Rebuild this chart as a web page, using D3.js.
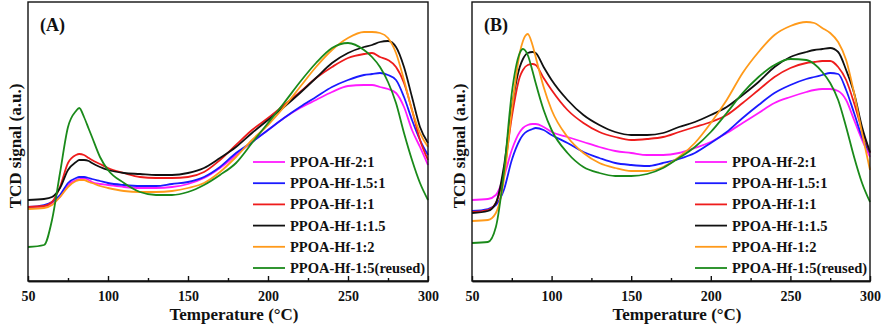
<!DOCTYPE html>
<html>
<head>
<meta charset="utf-8">
<script src="https://cdn.jsdelivr.net/npm/d3@7"></script>
<style>
  body { margin: 0; background: #fff; }
  svg text { font-family: "Liberation Serif", "Times New Roman", serif; font-weight: bold; fill: #111; }
  .axis path, .axis line { stroke: #111; stroke-width: 1.4; }
</style>
</head>
<body>
<div id="chart"></div>
<script>
// ===== data (TCD signal in a.u.) =====
let temps = [50, 60, 65, 70, 75, 80, 82, 85, 88, 90, 95, 100, 110, 120, 130, 140, 150, 160, 170, 180,
             190, 200, 210, 220, 230, 240, 250, 260, 265, 270, 275, 280, 285, 290, 295, 300];

let seriesNames = ["PPOA-Hf-2:1", "PPOA-Hf-1.5:1", "PPOA-Hf-1:1", "PPOA-Hf-1:1.5", "PPOA-Hf-1:2", "PPOA-Hf-1:5(reused)"];
let seriesColors = ["#ff1aff", "#1a1aff", "#ee1c1c", "#111111", "#ff9a1a", "#1a8a1a"];
let xTicks = [50, 100, 150, 200, 250, 300];
let xMinorTicks = [75, 125, 175, 225, 275];

// panel A
let a_21   = [74,74,78,84,96,101,102,103,101,99,97,96,94,93,93,94,97,103,113,126,139,151,163,173,181,189,195,196,196,194,192,188,174,151,134,116];
let a_151  = [74,76,79,86,98,103,104,104,103,102,100,98,96,95,95,97,99,104,114,128,139,151,163,174,184,194,201,206,207,208,206,201,184,161,141,126];
let a_11   = [74,75,79,94,118,126,127,126,123,121,117,113,108,104,103,103,104,109,121,136,151,163,176,189,203,214,223,227,228,224,221,214,198,171,141,121];
let a_115  = [81,82,84,93,111,119,121,121,120,118,114,111,108,107,106,106,108,113,123,134,148,161,174,188,203,218,228,234,236,239,240,234,214,184,154,138];
let a_12   = [72,73,76,84,94,100,101,101,99,98,95,93,90,89,89,90,93,98,109,124,141,156,174,194,214,231,243,249,249,248,243,228,201,171,148,134];
let a_15r  = [34,36,61,108,154,170,173,164,152,144,124,111,98,89,86,86,89,96,106,118,138,158,178,199,218,233,238,231,224,214,199,178,148,121,98,81];

// panel B
let b_21   = [81,82,86,104,131,149,153,156,157,157,154,149,144,139,134,130,128,126,126,128,133,139,148,158,168,178,184,189,191,192,192,190,181,161,141,124];
let b_151  = [70,72,76,91,121,141,146,150,152,153,151,146,138,129,123,118,116,115,118,122,128,138,149,163,176,188,196,202,204,206,208,207,191,168,144,128];
let b_11   = [69,71,78,108,164,204,211,216,217,216,203,191,171,158,149,144,141,142,144,149,154,159,166,178,191,204,213,218,219,220,220,214,201,178,151,128];
let b_115  = [68,70,78,114,174,214,222,228,229,228,214,201,181,166,156,149,146,146,148,154,159,166,174,186,199,214,224,229,231,232,233,229,211,188,154,129];
let b_12   = [60,61,68,101,171,228,240,247,236,224,194,171,144,128,118,113,110,110,114,124,138,158,181,208,229,246,255,259,258,253,248,239,221,188,148,111];
let b_15r  = [38,39,54,108,188,228,232,226,210,198,171,151,128,114,108,105,105,107,113,123,134,149,168,188,204,216,222,221,217,209,198,181,154,124,98,79];

let panels = [
  {label: "(A)", left: 28, right: 428, series: [a_21, a_151, a_11, a_115, a_12, a_15r], yTitleX: 15},
  {label: "(B)", left: 472, right: 870, series: [b_21, b_151, b_11, b_115, b_12, b_15r], yTitleX: 459}
];

let plotTop = 2, plotBottom = 281;

let svg = d3.select("#chart").append("svg")
    .attr("width", 884)
    .attr("height", 324);

panels.forEach(p => drawPanel(p));

function drawPanel(p) {

  let width = p.right - p.left,
      height = plotBottom - plotTop;

  let x = d3.scaleLinear().domain([50, 300]).range([0, width]),
      y = d3.scaleLinear().domain([0, 279]).range([height, 0]);

  let g = svg.append("g")
      .attr("transform", "translate(" + p.left + "," + plotTop + ")");

  // curves
  let line = d3.line()
      .x((d, i) => x(temps[i]))
      .y(d => y(d))
      .curve(d3.curveMonotoneX);

  g.selectAll(".curve")
    .data(p.series)
    .enter()
  .append("path")
    .attr("class", "curve")
    .attr("fill", "none")
    .attr("stroke", (d, i) => seriesColors[i])
    .attr("stroke-width", 1.8)
    .attr("d", line);

  // frame
  g.append("rect")
    .attr("width", width)
    .attr("height", height)
    .attr("fill", "none")
    .attr("stroke", "#111")
    .attr("stroke-width", 1.4);

  // x axis, ticks pointing inward
  let axisMajor = g.append("g")
    .attr("class", "axis")
    .attr("transform", "translate(0," + height + ")")
    .call(d3.axisBottom(x).tickValues(xTicks).tickSizeInner(-5).tickSizeOuter(0).tickPadding(10));
  axisMajor.selectAll("text").style("font-size", "14px").attr("fill", "#111");

  g.append("g")
    .attr("class", "axis")
    .attr("transform", "translate(0," + height + ")")
    .call(d3.axisBottom(x).tickValues(xMinorTicks).tickSizeInner(-3).tickSizeOuter(0).tickFormat(""));

  // axis titles
  g.append("text")
    .attr("x", width / 2 + 6)
    .attr("y", height + 39)
    .attr("text-anchor", "middle")
    .style("font-size", "17px")
    .text("Temperature (°C)");

  svg.append("text")
    .attr("transform", "translate(" + p.yTitleX + "," + 146 + ") rotate(-90)")
    .attr("text-anchor", "middle")
    .attr("dy", "0.35em")
    .style("font-size", "17px")
    .text("TCD signal (a.u.)");

  // panel label
  g.append("text")
    .attr("x", 12)
    .attr("y", 29)
    .style("font-size", "18px")
    .text(p.label);

  // legend
  let legend = g.selectAll(".legend")
    .data(seriesNames)
    .enter()
  .append("g")
    .attr("class", "legend")
    .attr("transform", (d, i) => "translate(" + (width - 175) + "," + (160 + i * 21.2) + ")");

  legend.append("line")
    .attr("x1", 0)
    .attr("x2", 32)
    .attr("stroke", (d, i) => seriesColors[i])
    .attr("stroke-width", 1.8);

  legend.append("text")
    .attr("x", 37)
    .attr("dy", "0.35em")
    .style("font-size", "14.5px")
    .text(d => d);
}
</script>
</body>
</html>
